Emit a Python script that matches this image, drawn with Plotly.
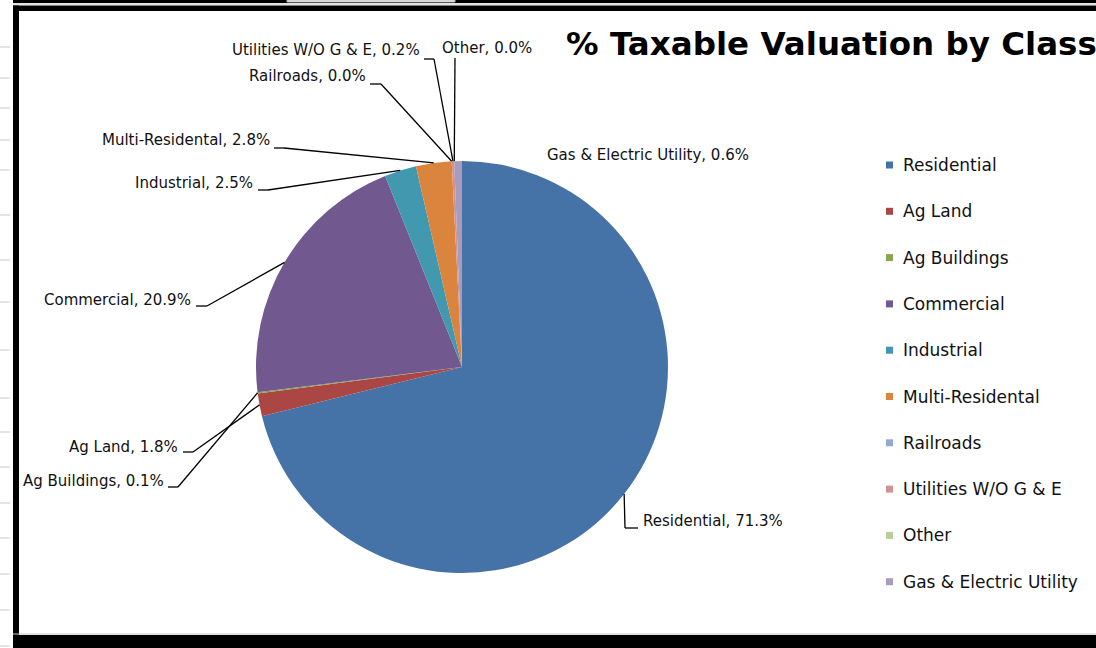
import math
import plotly.graph_objects as go

# ---------------- data ----------------
categories = ["Residential", "Ag Land", "Ag Buildings", "Commercial", "Industrial",
              "Multi-Residental", "Railroads", "Utilities W/O G & E", "Other",
              "Gas & Electric Utility"]
percent_values = [71.3, 1.8, 0.1, 20.9, 2.5, 2.8, 0.0, 0.2, 0.0, 0.6]
slice_colors = ["#4572A7", "#AA4643", "#89A54E", "#71588F", "#4198AF",
                "#DB843D", "#93A9CF", "#D19392", "#B9CD96", "#A99BBD"]
title_text = "% Taxable Valuation by Class"

# ---------------- layout constants (pixels) ----------------
W, H = 1096, 648
CX, CY, R = 462, 367, 206
FONT = "DejaVu Sans"

def px(x):
    return x / W

def py(y):
    return 1 - y / H

# label placement: text position, anchor and leader elbow points
label_layout = {
    "Utilities W/O G & E": dict(x=422, y=50, anchor="right", path=[(424, 59), (434, 59)]),
    "Other": dict(x=440, y=48, anchor="left", path=[(455, 58)]),
    "Railroads": dict(x=368, y=76, anchor="right", path=[(370, 84), (381, 84)]),
    "Multi-Residental": dict(x=272, y=140, anchor="right", path=[(274, 148), (284, 148)]),
    "Gas & Electric Utility": dict(x=545, y=155, anchor="left", path=None),
    "Industrial": dict(x=255, y=183, anchor="right", path=[(258, 190), (268, 190)]),
    "Commercial": dict(x=193, y=300, anchor="right", path=[(196, 306), (207, 306)]),
    "Ag Land": dict(x=180, y=447, anchor="right", path=[(183, 452), (193, 452)]),
    "Ag Buildings": dict(x=166, y=481, anchor="right", path=[(168, 487), (178, 487)]),
    "Residential": dict(x=641, y=521, anchor="left", path=[(638, 528), (625, 528)]),
}

fig = go.Figure()
fig.add_trace(go.Pie(
    labels=categories, values=percent_values, sort=False,
    direction="clockwise", rotation=0, textinfo="none",
    marker=dict(colors=slice_colors, line=dict(width=0)),
    showlegend=False, hoverinfo="label+percent",
    domain=dict(x=[px(CX - R), px(CX + R)], y=[py(CY + R), py(CY - R)]),
))

shapes = []
annotations = []

total = sum(percent_values)
cum = 0.0
for name, v in zip(categories, percent_values):
    mid = (cum + v / 2) / total * 2 * math.pi
    cum += v
    ax = CX + R * math.sin(mid)
    ay = CY - R * math.cos(mid)
    lay = label_layout[name]
    annotations.append(dict(
        x=px(lay["x"]), y=py(lay["y"]), xref="paper", yref="paper",
        xanchor=lay["anchor"], yanchor="middle", showarrow=False,
        text=f"{name}, {v:.1f}%", font=dict(family=FONT, size=15, color="#111111"),
    ))
    if lay["path"]:
        pts = lay["path"] + [(ax, ay)]
        for (x0, y0), (x1, y1) in zip(pts[:-1], pts[1:]):
            shapes.append(dict(type="line", xref="paper", yref="paper",
                               x0=px(x0), y0=py(y0), x1=px(x1), y1=py(y1),
                               line=dict(color="#000000", width=1.3)))

# title
annotations.append(dict(
    x=px(564), y=py(44), xref="paper", yref="paper", xanchor="left", yanchor="middle",
    showarrow=False, text=title_text,
    font=dict(family=FONT, size=32.5, color="#000000", weight="bold"),
))

# manual legend
for i, (name, col) in enumerate(zip(categories, slice_colors)):
    cy = 165 + i * 46.3
    shapes.append(dict(type="rect", xref="paper", yref="paper",
                       x0=px(886), x1=px(893), y0=py(cy - 3.5), y1=py(cy + 3.5),
                       fillcolor=col, line=dict(width=0)))
    annotations.append(dict(
        x=px(901), y=py(cy), xref="paper", yref="paper", xanchor="left", yanchor="middle",
        showarrow=False, text=name, font=dict(family=FONT, size=17, color="#111111"),
    ))

# frame (spreadsheet screenshot border)
def rect(x0, y0, x1, y1, color, lw=0, lc=None):
    shapes.append(dict(type="rect", xref="paper", yref="paper",
                       x0=px(x0), x1=px(x1), y0=py(y1), y1=py(y0),
                       fillcolor=color, line=dict(width=lw, color=lc or color), layer="above"))

rect(13, 0, W, 3, "#000000")
rect(287, 0, 455, 2, "#ffffff", 1, "#b0b0b0")
rect(13, 3.5, W, 4.5, "#c8c8c8")
rect(13, 5.5, W, 11, "#000000")
rect(13, 5.5, 19, 636, "#000000")
rect(13, 633.5, W, 634.5, "#c8c8c8")
rect(13, 635, W, H, "#000000")

for ty in [47, 78, 108, 140, 170, 215, 260, 302, 350, 398, 432, 467, 503, 538, 574, 610, 646]:
    shapes.append(dict(type="line", xref="paper", yref="paper",
                       x0=px(0), x1=px(10), y0=py(ty), y1=py(ty),
                       line=dict(color="#c8c8c8", width=1)))

fig.update_layout(
    width=W, height=H, autosize=False,
    margin=dict(l=0, r=0, t=0, b=0),
    paper_bgcolor="#ffffff", plot_bgcolor="#ffffff",
    shapes=shapes, annotations=annotations, showlegend=False,
)

fig.write_html(
    "out.html",
    config={"displayModeBar": False},
    post_script="document.body.style.margin='0';document.body.style.overflow='hidden';",
)
